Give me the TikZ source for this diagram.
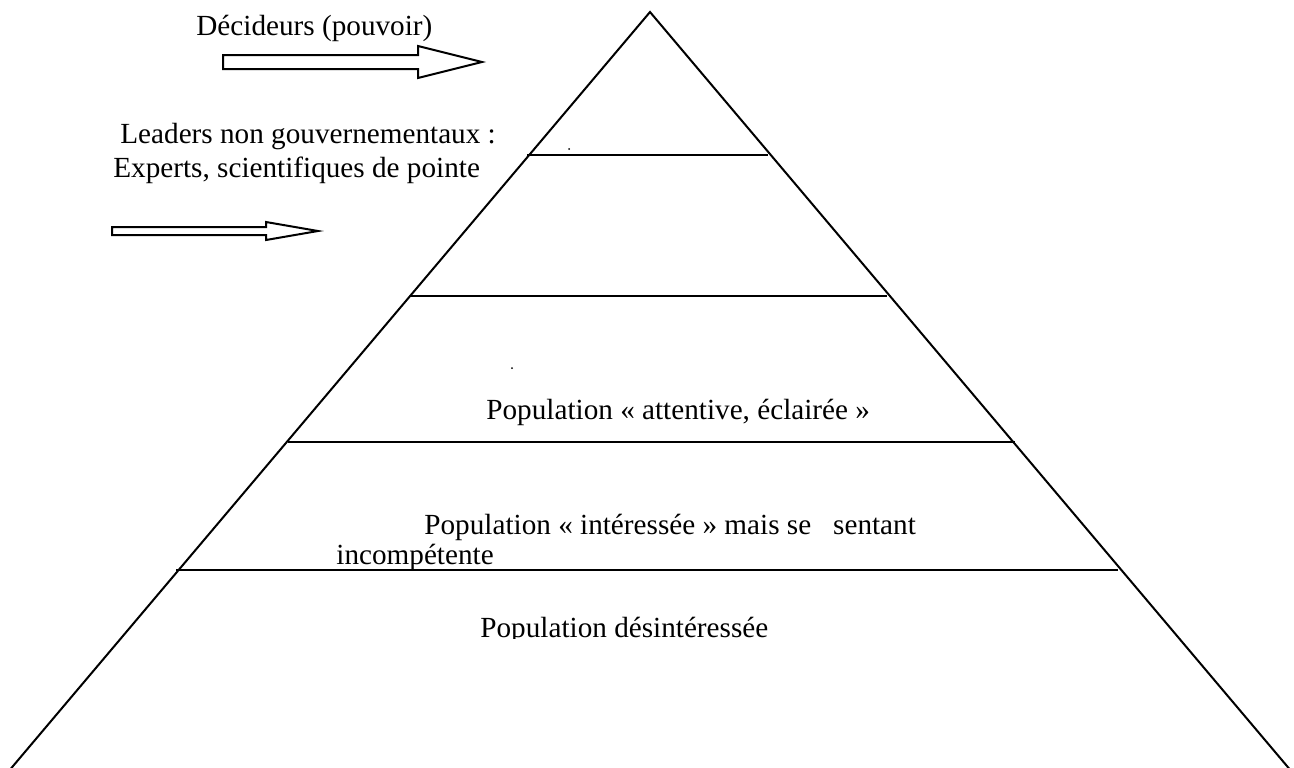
\documentclass[tikz,border=0pt]{standalone}
\usepackage{fontspec}
\setmainfont{Liberation Serif}
\newfontfamily\serifTNR{Liberation Serif}
\tikzset{
  edge/.style={line width=1pt, line join=miter},
  lbl/.style={anchor=base west, inner sep=0pt, font=\serifTNR\fontsize{14.6}{17}\selectfont},
  blockarrow/.style={line width=1pt, line join=miter, fill=white},
}
\begin{document}
\begin{tikzpicture}[x=0.5pt, y=-0.5pt]
\useasboundingbox (0,0) rectangle (1294,767);
% pyramid
\coordinate (apex) at (650,12);
\coordinate (bl) at (8,772);
\coordinate (br) at (1292,772);
\draw[edge] (bl) -- (apex) -- (br);
% layer lines
\coordinate (l1a) at (527,155); \coordinate (l1b) at (768,155);
\coordinate (l2a) at (411,296); \coordinate (l2b) at (887,296);
\coordinate (l3a) at (288,442); \coordinate (l3b) at (1015,442);
\coordinate (l4a) at (176,570); \coordinate (l4b) at (1118,570);
\draw[edge] (l1a) -- (l1b);
\draw[edge] (l2a) -- (l2b);
\draw[edge] (l3a) -- (l3b);
\draw[edge] (l4a) -- (l4b);
% block arrows
\draw[blockarrow] (223,55) -- (418,55) -- (418,46) -- (482,62) -- (418,78) -- (418,69) -- (223,69) -- cycle;
\draw[blockarrow] (112,227) -- (266,227) -- (266,222) -- (318,231) -- (266,240) -- (266,235) -- (112,235) -- cycle;
% labels
\node[lbl] (dec) at (196,35) {Décideurs (pouvoir)};
\node[lbl] (lead) at (120,143) {Leaders non gouvernementaux :};
\node[lbl] (exp) at (113,177) {Experts, scientifiques de pointe};
\node[lbl] (att) at (486,419) {Population « attentive, éclairée »};
\node[lbl] (int) at (424,534) {Population « intéressée » mais se\ \ \ sentant};
\node[lbl] (inc) at (336,564) {incompétente};
\begin{scope}
\clip (0,590) rectangle (1294,638);
\node[lbl] (des) at (480,637) {Population désintéressée};
\end{scope}
% stray dots
\fill (569,149) circle (1);
\fill (512,368) circle (1);
\end{tikzpicture}
\end{document}
